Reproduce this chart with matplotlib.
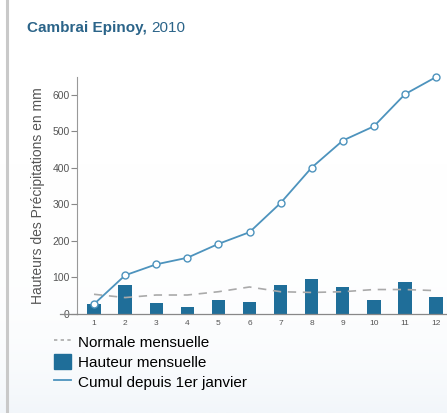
import numpy as np
import matplotlib.pyplot as plt
from matplotlib.colors import LinearSegmentedColormap
from matplotlib.lines import Line2D
from matplotlib.patches import Patch

plt.rcParams['font.family'] = ['Liberation Sans', 'DejaVu Sans']

mois = [1, 2, 3, 4, 5, 6, 7, 8, 9, 10, 11, 12]
hauteur = [27, 79, 30, 18, 38, 32, 80, 97, 74, 39, 88, 47]
cumul = [27, 106, 136, 154, 192, 224, 304, 401, 475, 514, 602, 649]
normale = [54, 45, 52, 52, 61, 74, 61, 59, 61, 67, 67, 64]

bar_col = '#1f6e99'
line_col = '#4d93bd'
title_col = '#2b6489'

fig = plt.figure(figsize=(4.47, 4.13), dpi=100)

# very soft background gradient + left border
bg = fig.add_axes([0, 0, 1, 1], zorder=-10)
grad = np.linspace(0, 1, 256).reshape(-1, 1) ** 6
bg.imshow(grad, aspect='auto', cmap=LinearSegmentedColormap.from_list('bg', ['#ffffff', '#f2f6fa']),
          extent=[0, 1, 0, 1], origin='upper')
bg.plot([6.5 / 447, 6.5 / 447], [0, 1], color='#c9c9c9', lw=2.2)
bg.set_xlim(0, 1)
bg.set_ylim(0, 1)
bg.axis('off')

t1 = fig.text(27 / 447, 1 - 28 / 413, 'Cambrai Epinoy,', color=title_col, fontsize=11,
              fontweight='bold', va='center', ha='left')
fig.canvas.draw()
bb = t1.get_window_extent()
fig.text((bb.x1 + 4) / 447, 1 - 28 / 413, '2010', color=title_col, fontsize=11,
         va='center', ha='left')

ax = fig.add_axes([76.7 / 447, 1 - 314 / 413, (447 - 76.7) / 447, (314 - 77) / 413])
ax.patch.set_alpha(0)

ax.bar(mois, hauteur, width=0.43, color=bar_col, zorder=2)
ax.plot(mois, normale, color='#aaaaaa', lw=1.2, ls=(0, (5, 4)), zorder=3)
ax.plot(mois, cumul, color=line_col, lw=1.3, marker='o', ms=5,
        mfc='white', mec=line_col, mew=1, zorder=4, clip_on=False)

ax.set_xlim(0.444, 12.35)
ax.set_ylim(0, 649)
ax.set_yticks([0, 100, 200, 300, 400, 500, 600])
ax.set_xticks(mois)
ax.tick_params(axis='y', length=4, width=0.8, color='#888888', labelsize=7.5,
               labelcolor='#555555', pad=1)
ax.tick_params(axis='x', length=0, labelsize=6, labelcolor='#555555', pad=4)

for s in ['top', 'right']:
    ax.spines[s].set_visible(False)
ax.spines['left'].set_color('#999999')
ax.spines['left'].set_linewidth(0.8)
ax.spines['bottom'].set_color('#888888')
ax.spines['bottom'].set_linewidth(0.9)
ax.plot([-0.045, 0], [0, 0], transform=ax.transAxes, color='#888888', lw=0.9, clip_on=False)

ax.set_ylabel('Hauteurs des Précipitations en mm', fontsize=10, color='#555555', labelpad=5)

handles = [
    Line2D([], [], color='#aaaaaa', lw=1.2, ls=(0, (2, 2))),
    Patch(facecolor=bar_col, edgecolor=bar_col),
    Line2D([], [], color=line_col, lw=1.3),
]
labels = ['Normale mensuelle', 'Hauteur mensuelle', 'Cumul depuis 1er janvier']
fig.legend(handles, labels, loc='upper left', bbox_to_anchor=(54 / 447, 1 - 334 / 413),
           frameon=False, fontsize=11, handlelength=1.1, handleheight=1.1,
           handletextpad=0.45, labelspacing=0.3, borderaxespad=0, borderpad=0)

fig.savefig('out.png', dpi=100)
